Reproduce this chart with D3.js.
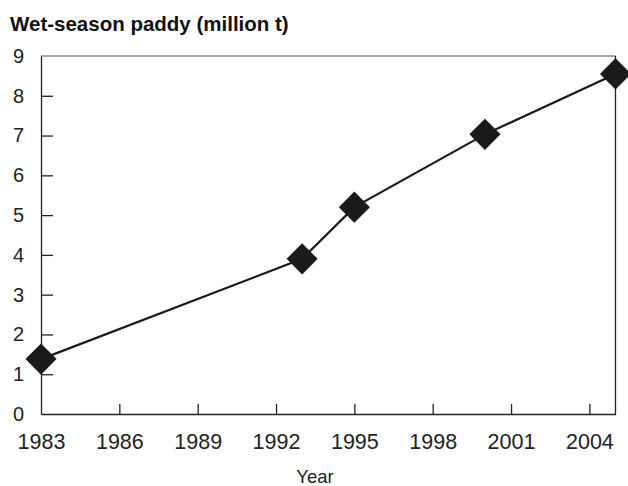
<!DOCTYPE html>
<html>
<head>
<meta charset="utf-8">
<script src="https://cdn.jsdelivr.net/npm/d3@7"></script>
<style>
  body { margin: 0; background: #fff; }
  text { font-family: "Liberation Sans", Arial, sans-serif; }
</style>
</head>
<body>
<div id="chart"></div>
<script>
// values
var years = [1983, 1993, 1995, 2000, 2005];
var paddy = [1.38, 3.9, 5.2, 7.03, 8.55];
var xTicks = [1983, 1986, 1989, 1992, 1995, 1998, 2001, 2004];
var yTicks = [0, 1, 2, 3, 4, 5, 6, 7, 8, 9];

var W = 628, H = 486;
var plotL = 41, plotR = 615.5, plotT = 56, plotB = 414;

var svg = d3.select("#chart")
	.append("svg")
	.attr("width", W)
	.attr("height", H);

var x = d3.scaleLinear().domain([1983, 2005]).range([plotL, plotR]);
var y = d3.scaleLinear().domain([0, 9]).range([plotB, plotT]);

// title
svg.append("text")
	.attr("x", 10)
	.attr("y", 31)
	.style("font-size", "20.5px")
	.style("font-weight", "bold")
	.style("fill", "#111")
	.text("Wet-season paddy (million t)");

// frame: grey top, black right
svg.append("line")
	.attr("x1", plotL).attr("x2", plotR)
	.attr("y1", plotT).attr("y2", plotT)
	.style("stroke", "#8a8a8a").style("stroke-width", 1.6);
svg.append("line")
	.attr("x1", plotR).attr("x2", plotR)
	.attr("y1", plotT).attr("y2", plotB)
	.style("stroke", "#222").style("stroke-width", 1.3);

// y axis, ticks pointing inward
var yAxis = svg.append("g")
	.attr("transform", "translate(" + plotL + ",0)")
	.call(d3.axisLeft(y).tickValues(yTicks).tickFormat(d3.format("d"))
		.tickSizeInner(-12).tickSizeOuter(0).tickPadding(17));

// x axis, ticks pointing up
var xAxis = svg.append("g")
	.attr("transform", "translate(0," + plotB + ")")
	.call(d3.axisBottom(x).tickValues(xTicks).tickFormat(d3.format("d"))
		.tickSizeInner(-10).tickSizeOuter(0).tickPadding(20));

[yAxis, xAxis].forEach(function(a) {
	a.select(".domain").style("stroke", "#222").style("stroke-width", 1.3);
	a.selectAll(".tick line").style("stroke", "#222").style("stroke-width", 1.3);
	a.selectAll(".tick text")
		.style("fill", "#222")
		.attr("font-family", null);
});
yAxis.selectAll(".tick text").style("font-size", "20px");
xAxis.selectAll(".tick text").style("font-size", "21.5px");

// hide tick marks that sit on the frame
yAxis.selectAll(".tick").filter(function(d) { return d == 0 || d == 9; }).select("line").remove();
xAxis.selectAll(".tick").filter(function(d) { return d == 1983; }).select("line").remove();

// axis title
svg.append("text")
	.attr("x", 315)
	.attr("y", 483)
	.attr("text-anchor", "middle")
	.style("font-size", "18.5px")
	.style("fill", "#222")
	.text("Year");

var data = years.map(function(d, i) { return { year: d, value: paddy[i] }; });

var line = d3.line()
	.x(function(d) { return x(d.year); })
	.y(function(d) { return y(d.value); });

svg.append("path")
	.datum(data)
	.attr("d", line)
	.style("fill", "none")
	.style("stroke", "#1a1a1a")
	.style("stroke-width", 2.2);

// diamonds = squares turned 45 degrees
var diamond = d3.symbol().type(d3.symbolSquare).size(22 * 22);

svg.selectAll(".pt")
	.data(data)
	.enter().append("path")
	.attr("class", "pt")
	.attr("d", diamond)
	.attr("transform", function(d) {
		return "translate(" + x(d.year) + "," + y(d.value) + ") rotate(45)";
	})
	.style("fill", "#1a1a1a");
</script>
</body>
</html>
